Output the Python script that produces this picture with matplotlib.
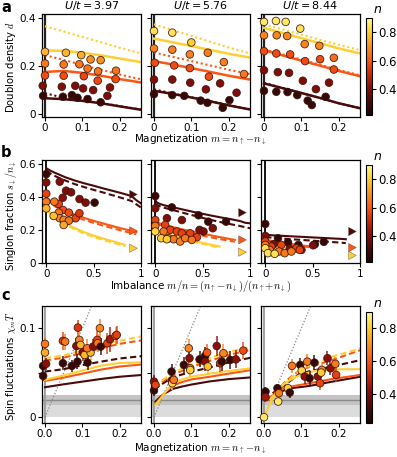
import numpy as np
import matplotlib
matplotlib.use("Agg")
import matplotlib.pyplot as plt
from matplotlib.colors import LinearSegmentedColormap, Normalize
from matplotlib.cm import ScalarMappable

plt.rcParams['font.family'] = ['DejaVu Sans']
plt.rcParams['mathtext.fontset'] = 'cm'

# ---------------- data ----------------
U_VALUES = ['3.97', '5.76', '8.44']
LINE_N = [0.32, 0.60, 0.80]          # density of theory curves: dark, orange, yellow

# row a: doublon density vs magnetization
A_X = [0, 0.05, 0.10, 0.15, 0.20, 0.26]
A1_SOLID = [[0.066, 0.062, 0.055, 0.045, 0.032, 0.017],
            [0.176, 0.180, 0.172, 0.160, 0.146, 0.131],
            [0.266, 0.264, 0.256, 0.245, 0.232, 0.216]]
A1_DOT = [[0.087, 0.068, 0.056, 0.046, 0.033, 0.018],
          [0.246, 0.226, 0.205, 0.185, 0.165, 0.144],
          [0.367, 0.345, 0.322, 0.300, 0.277, 0.252]]
A2_SOLID = [[0.097, 0.084, 0.069, 0.053, 0.036, 0.018],
            [0.221, 0.207, 0.192, 0.176, 0.160, 0.143],
            [0.315, 0.300, 0.284, 0.268, 0.252, 0.235]]
A2_DOT = [[0.103, 0.086, 0.070, 0.054, 0.037, 0.019],
          [0.257, 0.239, 0.221, 0.203, 0.185, 0.166],
          [0.375, 0.351, 0.327, 0.302, 0.278, 0.252]]
A3_SOLID = [[0.128, 0.108, 0.088, 0.067, 0.045, 0.023],
            [0.267, 0.245, 0.223, 0.202, 0.180, 0.157],
            [0.360, 0.339, 0.317, 0.296, 0.274, 0.252]]
A3_DOT = [[0.130, 0.109, 0.088, 0.067, 0.045, 0.023],
          [0.270, 0.249, 0.228, 0.206, 0.184, 0.161],
          [0.375, 0.354, 0.332, 0.310, 0.289, 0.266]]

A1_M = [0, 0.056, 0.097, 0.122, 0.149,
        0, 0.05, 0.092, 0.114, 0.142, 0.19,
        0, 0.05, 0.104, 0.141, 0.189,
        -0.006, 0.045, 0.081, 0.102, 0.129, 0.174, 0.167,
        -0.005, 0.048, 0.072, 0.087, 0.114, 0.149]
A1_D = [0.26, 0.256, 0.246, 0.228, 0.225,
        0.211, 0.207, 0.208, 0.19, 0.178, 0.181,
        0.161, 0.16, 0.158, 0.139, 0.146,
        0.118, 0.114, 0.118, 0.107, 0.10, 0.111, 0.076,
        0.076, 0.072, 0.079, 0.068, 0.0625, 0.049]
A1_N = [0.76, 0.76, 0.75, 0.70, 0.70,
        0.66, 0.66, 0.66, 0.65, 0.65, 0.65,
        0.58, 0.58, 0.57, 0.57, 0.58,
        0.40, 0.40, 0.40, 0.40, 0.40, 0.41, 0.39,
        0.28, 0.28, 0.28, 0.28, 0.28, 0.28]

A2_M = [0, 0.049, 0.10,
        0, 0.049, 0.096, 0.144, 0.187, 0.241,
        0.002, 0.054, 0.096, 0.147,
        0, 0.049, 0.097, 0.139, 0.177, 0.221,
        0, 0.049, 0.081, 0.125, 0.143, 0.184, 0.202]
A2_D = [0.347, 0.34, 0.299,
        0.274, 0.269, 0.249, 0.256, 0.217, 0.167,
        0.214, 0.203, 0.192, 0.156,
        0.144, 0.144, 0.131, 0.103, 0.128, 0.089,
        0.083, 0.079, 0.076, 0.056, 0.047, 0.026, 0.058]
A2_N = [0.84, 0.84, 0.80,
        0.67, 0.67, 0.67, 0.67, 0.67, 0.66,
        0.58, 0.58, 0.58, 0.58,
        0.40, 0.40, 0.40, 0.40, 0.40, 0.40,
        0.28, 0.28, 0.28, 0.28, 0.28, 0.28, 0.28]

A3_M = [0, 0.032, 0.058, 0.097,
        0, 0.034, 0.062, 0.109, 0.148,
        0, 0.033, 0.07, 0.11, 0.15, 0.187, 0.187,
        0, 0.037, 0.067, 0.104, 0.139, 0.174,
        0, 0.033, 0.063, 0.089, 0.117, 0.128, 0.165]
A3_D = [0.385, 0.389, 0.385, 0.357,
        0.329, 0.329, 0.326, 0.292, 0.285,
        0.2625, 0.253, 0.249, 0.221, 0.229, 0.235, 0.186,
        0.183, 0.175, 0.172, 0.139, 0.104, 0.131,
        0.097, 0.093, 0.092, 0.079, 0.056, 0.0375, 0.072]
A3_N = [0.86, 0.86, 0.86, 0.84,
        0.68, 0.68, 0.68, 0.68, 0.68,
        0.58, 0.58, 0.58, 0.58, 0.58, 0.64, 0.58,
        0.40, 0.40, 0.40, 0.40, 0.40, 0.40,
        0.28, 0.28, 0.28, 0.28, 0.28, 0.28, 0.28]

# row b: singlon fraction vs imbalance
B1_X_DARK = [0, 0.05, 0.1, 0.2, 0.3, 0.4, 0.5, 0.6, 0.7, 0.8, 0.9, 0.95, 1.0]
B1_DARK_SOLID = [0.575, 0.558, 0.545, 0.52, 0.50, 0.483, 0.468, 0.452, 0.437, 0.422, 0.405, 0.38, 0.36]
B1_DARK_DASH = [0.56, 0.54, 0.525, 0.50, 0.478, 0.46, 0.443, 0.427, 0.41, 0.393, 0.375, 0.355, 0.335]
B1_X_ORANGE = [0, 0.05, 0.1, 0.2, 0.3, 0.4, 0.5, 0.6, 0.7, 0.8, 0.9, 0.95]
B1_ORANGE_SOLID = [0.40, 0.37, 0.35, 0.318, 0.293, 0.272, 0.254, 0.238, 0.222, 0.207, 0.193, 0.186]
B1_ORANGE_DASH = [0.39, 0.36, 0.34, 0.308, 0.282, 0.26, 0.242, 0.225, 0.209, 0.194, 0.179, 0.172]
B1_X_YELLOW = [0, 0.05, 0.1, 0.2, 0.3, 0.4, 0.5, 0.6, 0.7, 0.8, 0.83]
B1_YELLOW_SOLID = [0.33, 0.30, 0.28, 0.24, 0.21, 0.185, 0.164, 0.146, 0.13, 0.113, 0.107]
B1_YELLOW_DASH = [0.322, 0.292, 0.272, 0.232, 0.202, 0.177, 0.156, 0.138, 0.122, 0.106, 0.10]
B1_ARROWS = [0.415, 0.193, 0.087]

B2_X_DARK = [0, 0.02, 0.05, 0.1, 0.2, 0.3, 0.4, 0.5, 0.6, 0.7, 0.8, 0.9, 0.95, 1.0]
B2_DARK_SOLID = [0.38, 0.365, 0.357, 0.348, 0.335, 0.322, 0.309, 0.297, 0.285, 0.274, 0.264, 0.252, 0.242, 0.239]
B2_DARK_DASH = [0.36, 0.35, 0.343, 0.333, 0.318, 0.302, 0.287, 0.272, 0.258, 0.245, 0.233, 0.222, 0.215, 0.209]
B2_X_ORANGE = [0, 0.05, 0.1, 0.2, 0.3, 0.4, 0.5, 0.6, 0.7, 0.8, 0.84]
B2_ORANGE_SOLID = [0.25, 0.238, 0.229, 0.214, 0.20, 0.188, 0.176, 0.164, 0.153, 0.142, 0.138]
B2_ORANGE_DASH = [0.24, 0.228, 0.219, 0.203, 0.189, 0.176, 0.164, 0.152, 0.141, 0.131, 0.127]
B2_X_YELLOW = [0, 0.05, 0.1, 0.2, 0.3, 0.4, 0.5, 0.6, 0.68]
B2_YELLOW_SOLID = [0.20, 0.188, 0.178, 0.161, 0.146, 0.133, 0.12, 0.107, 0.097]
B2_YELLOW_DASH = [0.194, 0.182, 0.172, 0.155, 0.14, 0.127, 0.114, 0.101, 0.091]
B2_ARROWS = [0.304, 0.138, 0.063]

B3_X_DARK = [0, 0.02, 0.1, 0.2, 0.3, 0.4, 0.5, 0.6, 0.7, 0.8, 0.85]
B3_DARK_SOLID = [0.17, 0.168, 0.165, 0.162, 0.159, 0.156, 0.153, 0.15, 0.147, 0.144, 0.142]
B3_DARK_DASH = [0.156, 0.154, 0.15, 0.145, 0.141, 0.137, 0.133, 0.129, 0.125, 0.121, 0.118]
B3_X_ORANGE = [0, 0.1, 0.2, 0.3, 0.4, 0.49]
B3_ORANGE_SOLID = [0.14, 0.128, 0.119, 0.111, 0.103, 0.097]
B3_ORANGE_DASH = [0.135, 0.123, 0.113, 0.105, 0.098, 0.092]
B3_X_YELLOW = [0, 0.1, 0.2, 0.33]
B3_YELLOW_SOLID = [0.10, 0.088, 0.079, 0.068]
B3_YELLOW_DASH = [0.096, 0.084, 0.075, 0.064]
B3_ARROWS = [0.189, 0.091, 0.043]
ARROW_X = [0.875, 0.99]

B1_X = [0, 0.51,
        0, 0.142, 0.209, 0.262, 0.174, 0.351, 0.415,
        0, 0.131, 0.177, 0.238, 0.31, 0.35,
        0, 0.085, 0.131, 0.142, 0.184, 0.238,
        0, 0.078, 0.184]
B1_S = [0.539, 0.365,
        0.488, 0.493, 0.438, 0.428, 0.395, 0.387, 0.365,
        0.42, 0.357, 0.32, 0.304, 0.27, 0.30,
        0.371, 0.371, 0.304, 0.27, 0.26, 0.255,
        0.33, 0.284, 0.229]
B1_N = [0.28, 0.28,
        0.40, 0.40, 0.40, 0.40, 0.42, 0.40, 0.40,
        0.56, 0.56, 0.58, 0.58, 0.56, 0.54,
        0.66, 0.66, 0.66, 0.68, 0.68, 0.66,
        0.76, 0.78, 0.74]

B2_X = [0, 0.175, 0.456, 0.56, 0.747,
        0, 0.123, 0.281, 0.467, 0.509, 0.607,
        0, 0.105, 0.158, 0.228, 0.281, 0.368, 0.439,
        0, 0.088, 0.14, 0.193, 0.263, 0.316, 0.386,
        0, 0.063, 0.123]
B2_S = [0.405, 0.336, 0.288, 0.249, 0.249,
        0.33, 0.27, 0.259, 0.199, 0.189, 0.209,
        0.259, 0.229, 0.199, 0.189, 0.178, 0.178, 0.154,
        0.223, 0.189, 0.148, 0.142, 0.128, 0.148, 0.138,
        0.189, 0.148, 0.142]
B2_N = [0.28, 0.28, 0.28, 0.28, 0.28,
        0.40, 0.40, 0.40, 0.40, 0.40, 0.40,
        0.56, 0.56, 0.56, 0.56, 0.56, 0.56, 0.56,
        0.66, 0.66, 0.68, 0.66, 0.68, 0.66, 0.66,
        0.82, 0.80, 0.80]

B3_X = [0, 0.134, 0.24, 0.35, 0.523, 0.618,
        0, 0.088, 0.258, 0.382, 0.505,
        0, 0.064, 0.17, 0.329, 0.364,
        0, 0.046, 0.145, 0.205, 0.276,
        0, 0.028, 0.099]
B3_S = [0.235, 0.148, 0.122, 0.107, 0.111, 0.126,
        0.162, 0.111, 0.085, 0.077, 0.105,
        0.128, 0.097, 0.107, 0.087, 0.077,
        0.107, 0.077, 0.067, 0.057, 0.067,
        0.087, 0.057, 0.053]
B3_N = [0.28, 0.28, 0.28, 0.28, 0.28, 0.28,
        0.40, 0.40, 0.40, 0.40, 0.40,
        0.56, 0.56, 0.56, 0.56, 0.56,
        0.66, 0.66, 0.66, 0.66, 0.66,
        0.84, 0.84, 0.84]

# row c: spin fluctuations vs magnetization
C_BAND = [0.0, 0.014, 0.0195, 0.025]
C1_X = [0, 0.05, 0.1, 0.15, 0.2, 0.26]
C1_SOLID = [[0.0337, 0.037, 0.040, 0.043, 0.0455, 0.0475],
            [0.0408, 0.0445, 0.049, 0.0535, 0.057, 0.0593],
            [0.042, 0.047, 0.0525, 0.058, 0.061, 0.0617]]
C1_DASH = [[0.0513, 0.054, 0.0585, 0.0625, 0.066, 0.0687],
           [0.0637, 0.067, 0.072, 0.0775, 0.0825, 0.0865],
           [0.0663, 0.0695, 0.075, 0.0805, 0.086, 0.091]]
C2_X_SOLID = [0.004, 0.01, 0.02, 0.03, 0.05, 0.075, 0.1, 0.15, 0.2, 0.26]
C2_SOLID = [[0.0176, 0.020, 0.024, 0.027, 0.0318, 0.0345, 0.0367, 0.0403, 0.0428, 0.0448],
            [0.015, 0.018, 0.023, 0.028, 0.0355, 0.0395, 0.0425, 0.0455, 0.049, 0.053],
            [0.0139, 0.017, 0.022, 0.028, 0.038, 0.0425, 0.0455, 0.049, 0.052, 0.055]]
C2_X_DASH = [0, 0.05, 0.1, 0.15, 0.2, 0.26]
C2_DASH = [[0.0315, 0.045, 0.051, 0.056, 0.0615, 0.067],
           [0.0337, 0.0478, 0.0565, 0.0635, 0.070, 0.076],
           [0.0352, 0.0497, 0.059, 0.0665, 0.0735, 0.079]]
C3_X_DARK = [0.015, 0.03, 0.045, 0.071, 0.1, 0.122, 0.183, 0.26]
C3_DARK_SOLID = [0.0213, 0.026, 0.0288, 0.0326, 0.034, 0.0352, 0.040, 0.0457]
C3_X_ORANGE = [0.01, 0.036, 0.062, 0.122, 0.183, 0.26]
C3_ORANGE_SOLID = [0.0195, 0.0288, 0.0337, 0.0382, 0.043, 0.0476]
C3_X_YELLOW = [0, 0.019, 0.036, 0.062, 0.097, 0.14, 0.2, 0.26]
C3_YELLOW_SOLID = [0.0, 0.0176, 0.0307, 0.040, 0.0476, 0.0524, 0.0538, 0.054]
C3_X_DARK_DASH = [0.023, 0.062, 0.097, 0.183, 0.26]
C3_DARK_DASH = [0.027, 0.0382, 0.0494, 0.057, 0.0644]
C3_X_ORANGE_DASH = [0.028, 0.062, 0.097, 0.183, 0.26]
C3_ORANGE_DASH = [0.027, 0.042, 0.0532, 0.0644, 0.0757]
C3_X_YELLOW_DASH = [0.015, 0.045, 0.097, 0.183, 0.26]
C3_YELLOW_DASH = [0.0195, 0.0345, 0.0532, 0.0682, 0.0775]

C1_M = [0, 0, -0.005, 0.003, -0.005, 0.048, 0.048, 0.054, 0.072, 0.084, 0.088, 0.092, 0.095, 0.087,
        0.101, 0.106, 0.114, 0.122, 0.113, 0.129, 0.14, 0.141, 0.147, 0.149, 0.167, 0.174, 0.189, 0.192]
C1_V = [0.0824, 0.0727, 0.0577, 0.060, 0.0464, 0.0607, 0.0858, 0.085, 0.0577, 0.080, 0.1007, 0.0869,
        0.0813, 0.0625, 0.0727, 0.070, 0.0614, 0.0727, 0.0775, 0.0794, 0.0869, 0.0831, 0.100, 0.0794,
        0.0831, 0.0876, 0.0914, 0.0925]
C1_E = [0.007, 0.008, 0.006, 0.007, 0.006, 0.008, 0.010, 0.009, 0.007, 0.009, 0.009, 0.010, 0.009, 0.008,
        0.009, 0.009, 0.008, 0.008, 0.010, 0.009, 0.010, 0.010, 0.010, 0.010, 0.012, 0.014, 0.010, 0.010]
C1_N = [0.66, 0.74, 0.28, 0.42, 0.28, 0.28, 0.56, 0.66, 0.28, 0.42, 0.54, 0.68, 0.76, 0.28,
        0.42, 0.76, 0.28, 0.76, 0.66, 0.42, 0.56, 0.66, 0.68, 0.28, 0.56, 0.45, 0.66, 0.56]

C2_M = [0, 0, 0.004, 0.047, 0.047, 0.049, 0.053, 0.08, 0.093, 0.095, 0.097, 0.097, 0.122, 0.137,
        0.137, 0.142, 0.144, 0.168, 0.177, 0.182, 0.186, 0.204, 0.219, 0.239]
C2_V = [0.040, 0.030, 0.0363, 0.0513, 0.0412, 0.0382, 0.042, 0.0588, 0.0775, 0.0663, 0.055, 0.053,
        0.065, 0.069, 0.0625, 0.0727, 0.057, 0.080, 0.0607, 0.0625, 0.0719, 0.0644, 0.065, 0.0749]
C2_E = [0.007, 0.006, 0.007, 0.008, 0.008, 0.008, 0.008, 0.009, 0.010, 0.010, 0.009, 0.009,
        0.009, 0.010, 0.010, 0.010, 0.009, 0.011, 0.010, 0.010, 0.010, 0.010, 0.010, 0.010]
C2_N = [0.42, 0.28, 0.56, 0.28, 0.42, 0.82, 0.66, 0.28, 0.68, 0.42, 0.66, 0.80,
        0.28, 0.28, 0.42, 0.60, 0.78, 0.42, 0.54, 0.28, 0.68, 0.28, 0.42, 0.58]

C3_M = [0.004, 0.004, 0, 0.036, 0.038, 0.04, 0.064, 0.069, 0.075, 0.097, 0.101, 0.109, 0.116, 0.122,
        0.135, 0.144, 0.15, 0.155, 0.153, 0.17, 0.178, 0.191, 0.193]
C3_V = [0.0288, 0.0225, 0.0, 0.0326, 0.0176, 0.027, 0.0326, 0.0277, 0.0577, 0.0588, 0.0524, 0.0457,
        0.0625, 0.0438, 0.0614, 0.0457, 0.0382, 0.0532, 0.0502, 0.0663, 0.055, 0.060, 0.0476]
C3_E = [0.005, 0.005, 0.002, 0.005, 0.005, 0.006, 0.006, 0.006, 0.008, 0.008, 0.008, 0.008,
        0.008, 0.008, 0.008, 0.008, 0.008, 0.008, 0.008, 0.008, 0.008, 0.008, 0.008]
C3_N = [0.28, 0.45, 0.86, 0.28, 0.86, 0.66, 0.80, 0.28, 0.66, 0.28, 0.82, 0.42, 0.66, 0.28,
        0.28, 0.42, 0.56, 0.68, 0.80, 0.42, 0.42, 0.66, 0.56]

# colormap anchors (density value, colour)
CMAP_N = [0.22, 0.32, 0.42, 0.52, 0.60, 0.70, 0.80, 0.90]
CMAP_RGB = ['#140505', '#4b0a0a', '#8c0f0a', '#d22d0a', '#fa5514', '#f59123', '#ffcd32', '#fffa8c']

# ---------------- styling ----------------
W, H = 397, 457
COL_L = [42, 151, 261]
COL_W = 99
ROW_T = [14, 160, 306]
ROW_H = [103, 103, 117]
CB_X, CB_W = 366, 6
CB_T = [18, 165, 312]
CB_H = [97, 97, 111]

norm = Normalize(CMAP_N[0], CMAP_N[-1])
cmap = LinearSegmentedColormap.from_list(
    'dens', [(norm(v), c) for v, c in zip(CMAP_N, CMAP_RGB)])
EDGE = (0.22, 0.08, 0.04, 0.9)
DOT = (0, (1.0, 1.3))
DASH = (0, (3.0, 1.6))
LW = 1.5
TICK_FS = 7.5
LABEL_FS = 7.2


def rect(l, t, w, h):
    return [l / W, 1 - (t + h) / H, w / W, h / H]


def lc(n):
    return cmap(norm(n))


fig = plt.figure(figsize=(W / 100, H / 100), dpi=100)


def style_axis(ax, first):
    for s in ax.spines.values():
        s.set_linewidth(0.9)
    ax.tick_params(direction='out', length=3, width=0.8, labelsize=TICK_FS, pad=1.5)
    if not first:
        ax.tick_params(labelleft=False)


def points(ax, m, v, n):
    ax.scatter(m, v, c=n, cmap=cmap, norm=norm, s=30, edgecolors=[EDGE], linewidths=0.6, zorder=4,
               clip_on=False)


# row a
a_sets = [(A1_SOLID, A1_DOT, A1_M, A1_D, A1_N), (A2_SOLID, A2_DOT, A2_M, A2_D, A2_N),
          (A3_SOLID, A3_DOT, A3_M, A3_D, A3_N)]
for j, (sol, dot, m, d, n) in enumerate(a_sets):
    ax = fig.add_axes(rect(COL_L[j], ROW_T[0], COL_W, ROW_H[0]))
    ax.axvline(0, color='#222222', lw=1.6, zorder=1)
    for k in range(3):
        ax.plot(A_X, dot[k], color=lc(LINE_N[k]), lw=LW, ls=DOT, zorder=2)
        ax.plot(A_X, sol[k], color=lc(LINE_N[k]), lw=1.8, zorder=2)
    points(ax, m, d, n)
    ax.set_xlim(-0.008, 0.257)
    ax.set_ylim(-0.0125, 0.418)
    ax.set_xticks([0, 0.1, 0.2])
    ax.set_xticklabels(['0', '0.1', '0.2'])
    ax.set_yticks([0, 0.2, 0.4])
    ax.set_yticklabels(['0', '0.2', '0.4'])
    style_axis(ax, j == 0)
    ax.set_title(r'$U/t = %s$' % U_VALUES[j], fontsize=8, pad=3.5, math_fontfamily='dejavusans')

# row b
b_sets = [
    (B1_X_DARK, B1_DARK_SOLID, B1_DARK_DASH, B1_X_ORANGE, B1_ORANGE_SOLID, B1_ORANGE_DASH,
     B1_X_YELLOW, B1_YELLOW_SOLID, B1_YELLOW_DASH, B1_ARROWS, B1_X, B1_S, B1_N),
    (B2_X_DARK, B2_DARK_SOLID, B2_DARK_DASH, B2_X_ORANGE, B2_ORANGE_SOLID, B2_ORANGE_DASH,
     B2_X_YELLOW, B2_YELLOW_SOLID, B2_YELLOW_DASH, B2_ARROWS, B2_X, B2_S, B2_N),
    (B3_X_DARK, B3_DARK_SOLID, B3_DARK_DASH, B3_X_ORANGE, B3_ORANGE_SOLID, B3_ORANGE_DASH,
     B3_X_YELLOW, B3_YELLOW_SOLID, B3_YELLOW_DASH, B3_ARROWS, B3_X, B3_S, B3_N)]
for j, bs in enumerate(b_sets):
    ax = fig.add_axes(rect(COL_L[j], ROW_T[1], COL_W, ROW_H[1]))
    ax.axvline(0, color='black', lw=1.3, zorder=1)
    curves = [(bs[0], bs[1], bs[2]), (bs[3], bs[4], bs[5]), (bs[6], bs[7], bs[8])]
    for k, (x, ys, yd) in enumerate(curves):
        ax.plot(x, yd, color=lc(LINE_N[k]), lw=LW, ls=DASH, zorder=2)
        ax.plot(x, ys, color=lc(LINE_N[k]), lw=LW, zorder=2)
    for k, lvl in enumerate(bs[9]):
        ax.annotate('', xy=(ARROW_X[1], lvl), xytext=(ARROW_X[0], lvl),
                    arrowprops=dict(arrowstyle='simple,head_length=0.55,head_width=0.6,tail_width=0.28',
                                    fc=lc(LINE_N[k]), ec=(0.3, 0.15, 0.1, 0.6), lw=0.4),
                    zorder=3)
    points(ax, bs[10], bs[11], bs[12])
    ax.set_xlim(-0.045, 1.0)
    ax.set_ylim(-0.003, 0.625)
    ax.set_xticks([0, 0.5, 1])
    ax.set_xticklabels(['0', '0.5', '1'])
    ax.set_yticks([0, 0.2, 0.4, 0.6])
    ax.set_yticklabels(['0', '0.2', '0.4', '0.6'])
    style_axis(ax, j == 0)

# row c
c_sets = [
    ([(C1_X, C1_SOLID[0]), (C1_X, C1_SOLID[1]), (C1_X, C1_SOLID[2])],
     [(C1_X, C1_DASH[0]), (C1_X, C1_DASH[1]), (C1_X, C1_DASH[2])], C1_M, C1_V, C1_E, C1_N),
    ([(C2_X_SOLID, C2_SOLID[0]), (C2_X_SOLID, C2_SOLID[1]), (C2_X_SOLID, C2_SOLID[2])],
     [(C2_X_DASH, C2_DASH[0]), (C2_X_DASH, C2_DASH[1]), (C2_X_DASH, C2_DASH[2])], C2_M, C2_V, C2_E, C2_N),
    ([(C3_X_DARK, C3_DARK_SOLID), (C3_X_ORANGE, C3_ORANGE_SOLID), (C3_X_YELLOW, C3_YELLOW_SOLID)],
     [(C3_X_DARK_DASH, C3_DARK_DASH), (C3_X_ORANGE_DASH, C3_ORANGE_DASH), (C3_X_YELLOW_DASH, C3_YELLOW_DASH)],
     C3_M, C3_V, C3_E, C3_N)]
for j, (sol, dsh, m, v, e, n) in enumerate(c_sets):
    ax = fig.add_axes(rect(COL_L[j], ROW_T[2], COL_W, ROW_H[2]))
    ax.axhspan(C_BAND[0], C_BAND[3], color='#dcdcdc', lw=0, zorder=0)
    ax.axhspan(C_BAND[1], C_BAND[3], color='#c4c4c4', lw=0, zorder=0)
    ax.axhline(C_BAND[2], color='#8a8a8a', lw=1.0, zorder=0.5)
    ax.axvline(0, color='#9a9a9a', lw=1.3, zorder=1)
    ax.plot([0, 0.2], [0, 0.2], color='#888888', lw=0.9, ls=(0, (1, 1.5)), zorder=1)
    for k in range(3):
        ax.plot(dsh[k][0], dsh[k][1], color=lc(LINE_N[k]), lw=LW, ls=DASH, zorder=2)
        ax.plot(sol[k][0], sol[k][1], color=lc(LINE_N[k]), lw=LW, zorder=2)
    mv = np.array(m)
    vv = np.array(v)
    ev = np.array(e)
    ax.vlines(mv, vv - ev, vv + ev, colors=[lc(x) for x in n], lw=1.2, alpha=0.85, zorder=3)
    points(ax, m, v, n)
    ax.set_xlim(-0.008, 0.257)
    ax.set_ylim(-0.0065, 0.125)
    ax.set_xticks([0, 0.1, 0.2])
    ax.set_xticklabels(['0.0', '0.1', '0.2'])
    ax.set_yticks([0, 0.05, 0.1])
    ax.set_yticklabels(['0', '', '0.1'])
    style_axis(ax, j == 0)

# colorbars
for i in range(3):
    cax = fig.add_axes(rect(CB_X, CB_T[i], CB_W, CB_H[i]))
    cb = fig.colorbar(ScalarMappable(norm=norm, cmap=cmap), cax=cax)
    cb.set_ticks([0.4, 0.6, 0.8])
    cb.set_ticklabels(['0.4', '0.6', '0.8'])
    cb.ax.tick_params(labelsize=8.4, length=3, width=0.8, pad=1.5)
    cb.outline.set_linewidth(0.8)
    fig.text((CB_X + 11) / W, 1 - (CB_T[i] - 2) / H, 'n', fontsize=9, style='italic',
             ha='center', va='bottom')

# axis labels
mag_label = r'Magnetization $m = n_{\uparrow}\!-\!n_{\downarrow}$'
fig.text(200 / W, 1 - 139.5 / H, mag_label, fontsize=LABEL_FS + 0.3, ha='center', va='center')
fig.text(201 / W, 1 - 286.5 / H,
         r'Imbalance $m/n = (n_{\uparrow}\!-\!n_{\downarrow})/(n_{\uparrow}\!+\!n_{\downarrow})$',
         fontsize=LABEL_FS + 0.3, ha='center', va='center')
fig.text(200 / W, 1 - 448.5 / H, mag_label, fontsize=LABEL_FS + 0.3, ha='center', va='center')

fig.text(11 / W, 1 - 67 / H, r'Doublon density $d$', fontsize=LABEL_FS, rotation=90,
         ha='center', va='center')
fig.text(11 / W, 1 - 216 / H, r'Singlon fraction $s_{\downarrow}/n_{\downarrow}$', fontsize=LABEL_FS,
         rotation=90, ha='center', va='center')
fig.text(11 / W, 1 - 366 / H, r'Spin fluctuations $\chi_m T$', fontsize=LABEL_FS, rotation=90,
         ha='center', va='center')

# panel letters
for letter, yb in zip(['a', 'b', 'c'], [12, 157, 300]):
    fig.text(1 / W, 1 - yb / H, letter, fontsize=10.5, weight='bold', ha='left', va='baseline')

fig.savefig('out.png', dpi=100)
